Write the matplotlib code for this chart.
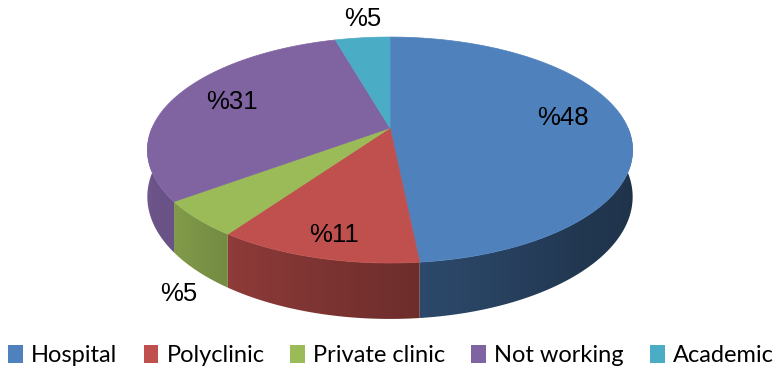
import numpy as np
import matplotlib.pyplot as plt
import matplotlib.colors as mcolors
from matplotlib.patches import Polygon, Patch

# data (slice sizes, labels as printed)
categories = ['Hospital', 'Polyclinic', 'Private clinic', 'Not working', 'Academic']
shares = [48.4, 11.3, 5.1, 30.8, 4.4]
pct_labels = ['%48', '%11', '%5', '%31', '%5']
colors = ['#4F81BD', '#C0504D', '#9BBB59', '#8064A2', '#4BACC6']

W, H = 779, 371
fig = plt.figure(figsize=(W / 100, H / 100), dpi=100)
ax = fig.add_axes([0, 0, 1, 1])
ax.set_xlim(0, W)
ax.set_ylim(H, 0)
ax.axis('off')

# perspective-ish projection of a unit disc
cx, cy = 390, 128
sx, sy = 238, 108.7
k = 0.195
hz = 45.0


def proj(x, y, z=0.0):
    w = 1 + k * y
    return cx + sx * x / w, cy + (-sy * y + hz * z) / w


# side lighting: lighter on the left, dark on the right
light_t = [-180, -140, -122, -83, -45, 0]
light_f = [0.86, 0.82, 0.73, 0.56, 0.42, 0.38]

total = sum(shares)
bounds = [90 - 360 * s / total for s in np.cumsum([0] + shares)]

# side walls (front half only), gradient clipped to each wall
for i, c in enumerate(colors):
    a0, a1 = bounds[i], bounds[i + 1]
    lo, hi = max(a1, -180), min(a0, 0)
    if lo >= hi:
        continue
    t = np.linspace(lo, hi, 80)
    tr = np.radians(t)
    top = [proj(np.cos(v), np.sin(v)) for v in tr]
    bot = [proj(np.cos(v), np.sin(v), 1) for v in tr[::-1]]
    poly = Polygon(top + bot, closed=True, facecolor='none', edgecolor='none')
    ax.add_patch(poly)
    xs = np.array([p[0] for p in top])
    allpts = np.array(top + bot)
    x0, x1 = allpts[:, 0].min() - 1, allpts[:, 0].max() + 1
    y0, y1 = allpts[:, 1].min() - 1, allpts[:, 1].max() + 1
    cols = np.linspace(x0, x1, 300)
    tc = np.interp(cols, xs, t)
    f = np.interp(tc, light_t, light_f)
    rgb = np.array(mcolors.to_rgb(c))
    img = (f[:, None] * rgb[None, :])[None, :, :]
    im = ax.imshow(img, extent=[x0, x1, y1, y0], aspect='auto',
                   interpolation='bilinear', zorder=1)
    im.set_clip_path(poly)

ax.set_xlim(0, W)
ax.set_ylim(H, 0)

# top faces
for i, c in enumerate(colors):
    a0, a1 = bounds[i], bounds[i + 1]
    t = np.radians(np.linspace(a0, a1, 120))
    pts = [proj(0, 0)] + [proj(np.cos(v), np.sin(v)) for v in t]
    ax.add_patch(Polygon(pts, closed=True, facecolor=c, edgecolor=c,
                         lw=0.5, zorder=2))

# percentage labels
for i, lab in enumerate(pct_labels):
    mid = np.radians((bounds[i] + bounds[i + 1]) / 2)
    cm, sm = np.cos(mid), np.sin(mid)
    if shares[i] >= 8:
        if sm > -0.5:
            px, py = proj(0.74 * cm, 0.74 * sm)
            if cm < 0:
                px, py = px + 1, py - 1
            else:
                px, py = px - 2, py - 6
        else:
            px, py = proj(0.85 * cm, 0.85 * sm)
            px += 5
    elif sm > 0:
        px, py = proj(1.26 * cm, 1.26 * sm)
        px += 6
    else:
        px, py = proj(1.08 * cm, 1.08 * sm, 1.25)
    ax.text(px, py, lab, ha='center', va='center', fontsize=18.5,
            family=['Liberation Sans', 'DejaVu Sans'], color='black', zorder=3)

handles = [Patch(facecolor=c, edgecolor='none') for c in colors]
ax.legend(handles, categories, loc='lower center', bbox_to_anchor=(0.502, -0.045),
          ncol=5, frameon=False, handlelength=0.62, handleheight=0.8,
          handletextpad=0.35, columnspacing=1.1,
          prop={'family': 'Lato', 'size': 17})

fig.savefig('out.png', dpi=100)
